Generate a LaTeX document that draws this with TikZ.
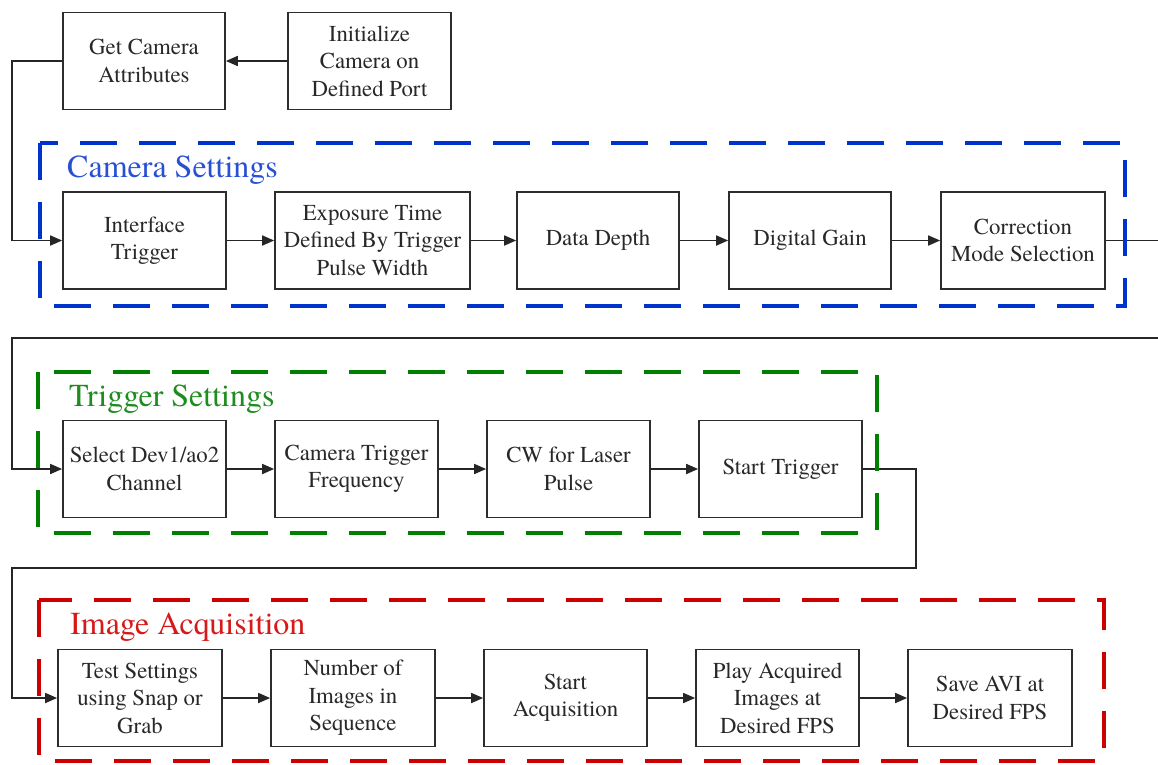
\documentclass[tikz,border=0pt]{standalone}
\usepackage{fontspec}
\setmainfont{texgyretermes-regular.otf}
\usetikzlibrary{arrows.meta}
\definecolor{setblue}{RGB}{0,51,204}
\definecolor{setgreen}{RGB}{0,128,0}
\definecolor{setred}{RGB}{204,0,0}
\definecolor{labblue}{RGB}{40,80,210}
\definecolor{labgreen}{RGB}{30,140,30}
\definecolor{labred}{RGB}{215,25,25}
\definecolor{boxline}{RGB}{45,45,45}
\definecolor{boxtext}{RGB}{40,40,40}

\begin{document}
\begin{tikzpicture}[x=1pt,y=-1pt,
  stepbox/.style={draw=boxline, line width=1.7pt, minimum height=97pt,
    inner sep=0pt, align=center, text=boxtext,
    font=\fontsize{22.8}{27.5}\selectfont},
  flow/.style={draw=black!85, line width=1.7pt,
    -{Triangle[length=12pt,width=10pt]}},
  link/.style={draw=black!85, line width=1.7pt},
  group/.style={line width=4.2pt, dash pattern=on 37pt off 22pt},
  grouplabel/.style={anchor=base west, inner sep=0pt,
    font=\fontsize{32}{38}\selectfont}
]
\useasboundingbox (0,0) rectangle (1158,764);
\fill[white] (0,0) rectangle (1158,764);

% start-up
\node[stepbox, minimum width=162pt] (getcam) at (144,61) {Get Camera\\Attributes};
\node[stepbox, minimum width=163pt] (init) at (369.5,61) {Initialize\\Camera on\\Defined Port};

% camera settings
\node[stepbox, minimum width=163pt] (iface) at (144.5,240.5) {Interface\\Trigger};
\node[stepbox, minimum width=195pt] (expo) at (372.5,240.5) {Exposure Time\\Defined By Trigger\\Pulse Width};
\node[stepbox, minimum width=162pt] (depth) at (598,240.5) {Data Depth};
\node[stepbox, minimum width=162pt] (gain) at (810,240.5) {Digital Gain};
\node[stepbox, minimum width=164pt] (corr) at (1023,240.5) {Correction\\Mode Selection};

% trigger settings
\node[stepbox, minimum width=163pt] (sel) at (144.5,469) {Select Dev1/ao2\\Channel};
\node[stepbox, minimum width=163pt] (camtrig) at (356.5,469) {Camera Trigger\\Frequency};
\node[stepbox, minimum width=163pt] (cw) at (568.5,469) {CW for Laser\\Pulse};
\node[stepbox, minimum width=163pt] (start) at (780.5,469) {Start Trigger};

% image acquisition
\node[stepbox, minimum width=164pt] (test) at (140,698) {Test Settings\\using Snap or\\Grab};
\node[stepbox, minimum width=164pt] (num) at (353,698) {Number of\\Images in\\Sequence};
\node[stepbox, minimum width=163pt] (acq) at (565.5,698) {Start\\Acquisition};
\node[stepbox, minimum width=163pt] (play) at (777.5,698) {Play Acquired\\Images at\\Desired FPS};
\node[stepbox, minimum width=164pt] (save) at (990,698) {Save AVI at\\Desired FPS};

% line ends at the page edge
\coordinate (rowoneout) at (1158,240.5);
\coordinate (rowtwoin) at (1158,338);

% connectors
\draw[flow] (init) -- (getcam);
\draw[flow] (getcam.west) -- ++(-50,0) |- (iface.west);
\draw[flow] (iface) -- (expo);
\draw[flow] (expo) -- (depth);
\draw[flow] (depth) -- (gain);
\draw[flow] (gain) -- (corr);
\draw[link] (corr.east) -- (rowoneout);

\draw[flow] (rowtwoin) -- ++(-1146,0) |- (sel.west);
\draw[flow] (sel) -- (camtrig);
\draw[flow] (camtrig) -- (cw);
\draw[flow] (cw) -- (start);
\draw[flow] (start.east) -- ++(53,0) |- (12,568) |- (test.west);

\draw[flow] (test) -- (num);
\draw[flow] (num) -- (acq);
\draw[flow] (acq) -- (play);
\draw[flow] (play) -- (save);

% dashed groups
\draw[group, setblue] (40,143) rectangle (1125,306);
\node[grouplabel, text=labblue] (camlabel) at (67,177) {Camera Settings};

\draw[group, setgreen] (38,372) rectangle (877,533);
\node[grouplabel, text=labgreen] (triglabel) at (69,406) {Trigger Settings};

\draw[group, setred] (39,600) rectangle (1104,761);
\node[grouplabel, text=labred] (acqlabel) at (70,634) {Image Acquisition};
\end{tikzpicture}
\end{document}
